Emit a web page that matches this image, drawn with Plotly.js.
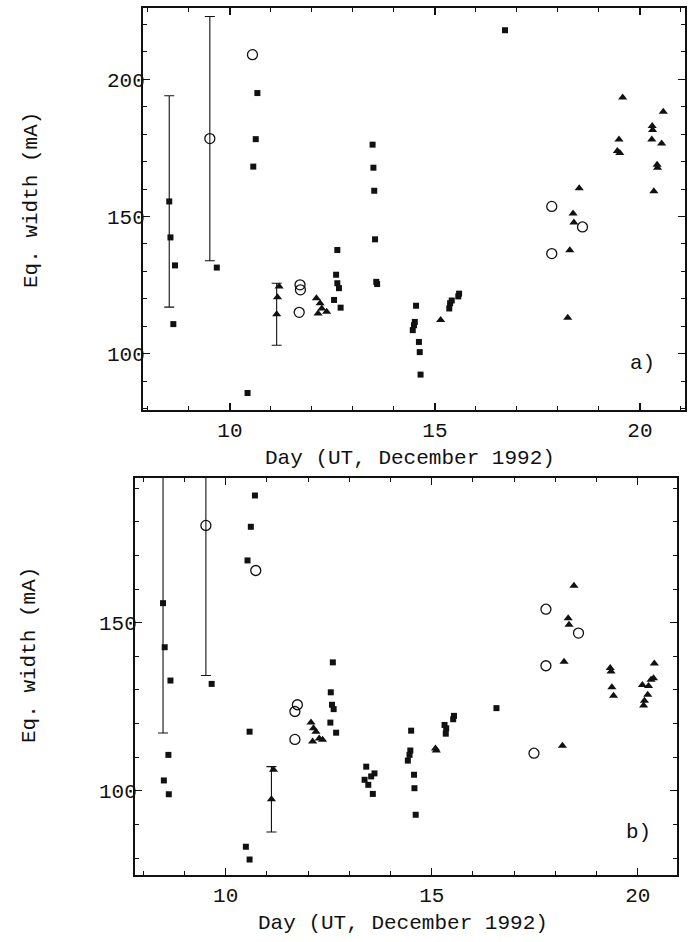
<!DOCTYPE html>
<html>
<head>
<meta charset="utf-8">
<script src="https://cdn.plot.ly/plotly-3.0.1.min.js"></script>
<style>
html,body{margin:0;padding:0;background:#fff;}
#chart{width:699px;height:942px;}
</style>
</head>
<body>
<div id="chart"></div>
<script>
// ---------- Panel a ----------
var aSqX = [8.55, 8.66, 8.62, 9.68, 10.67, 10.63, 10.57, 10.43, 12.62, 12.59, 12.62, 12.66, 12.54, 12.70, 13.48, 13.50, 13.52, 13.54, 13.59, 13.57, 14.54, 14.51, 14.49, 14.46, 14.61, 14.63, 14.65, 15.37, 15.41, 15.35, 15.59, 15.57, 16.71];
var aSqY = [142.4, 132.2, 110.8, 131.4, 195, 178.2, 168.2, 85.7, 137.8, 128.8, 125.7, 123.9, 119.6, 116.8, 176.2, 167.8, 159.4, 141.7, 125.4, 126.2, 117.5, 111.6, 110.4, 108.6, 104.3, 100.6, 92.4, 118.4, 119.4, 116.5, 121.9, 120.9, 217.9];
var aSqErrX = [8.52];
var aSqErrY = [155.5];
var aSqErr = [38.5];

var aCiX = [10.55, 11.71, 11.72, 11.69, 17.85, 17.85, 18.60];
var aCiY = [209, 125.1, 123.3, 115.1, 153.7, 136.5, 146.2];
var aCiErrX = [9.51];
var aCiErrY = [178.4];
var aCiErr = [44.5];

var aTrX = [11.2, 11.16, 12.11, 12.20, 12.15, 12.36, 12.24, 15.14, 18.52, 18.37, 18.39, 18.29, 18.24, 19.58, 19.49, 19.45, 19.51, 20.57, 20.30, 20.31, 20.29, 20.53, 20.42, 20.43, 20.34];
var aTrY = [124.5, 120.6, 120.2, 118.4, 114.7, 115.3, 116.5, 112.3, 160.3, 151.1, 147.8, 137.7, 113.1, 193.4, 178.1, 173.9, 173.2, 188.2, 183, 181.5, 178.1, 176.6, 168.9, 167.8, 159.2];
var aTrErrX = [11.14];
var aTrErrY = [114.4];
var aTrErr = [11.3];

// ---------- Panel b ----------
var bSqX = [8.52, 8.66, 8.61, 8.50, 8.62, 9.66, 10.71, 10.61, 10.53, 10.58, 10.49, 10.58, 12.60, 12.55, 12.58, 12.62, 12.54, 12.68, 13.41, 13.37, 13.61, 13.46, 13.57, 13.53, 14.50, 14.48, 14.46, 14.42, 14.57, 14.58, 14.61, 15.31, 15.35, 15.34, 15.54, 15.52, 16.57];
var bSqY = [142.7, 132.8, 110.7, 103.1, 99.0, 131.8, 187.8, 178.5, 168.5, 117.6, 83.4, 79.6, 138.2, 129.3, 125.6, 124.3, 120.3, 117.3, 107.2, 103.3, 105.2, 101.8, 99.1, 104.3, 117.9, 112.0, 110.7, 109.0, 104.8, 100.8, 92.9, 119.6, 118.6, 117.0, 122.3, 121.3, 124.6];
var bSqErrX = [8.48];
var bSqErrY = [155.8];
var bSqErr = [38.6];

var bCiX = [10.73, 11.74, 11.68, 11.68, 17.48, 17.77, 17.77, 18.56];
var bCiY = [165.5, 125.6, 123.6, 115.3, 111.2, 154, 137.2, 146.9];
var bCiErrX = [9.52];
var bCiErrY = [178.9];
var bCiErr = [44.6];

var bTrX = [11.16, 12.07, 12.13, 12.19, 12.11, 12.27, 12.35, 15.09, 15.11, 18.17, 18.45, 18.31, 18.33, 18.21, 19.33, 19.35, 19.37, 19.41, 20.40, 20.38, 20.32, 20.11, 20.26, 20.24, 20.16, 20.14];
var bTrY = [106.3, 120.3, 118.6, 117.6, 114.7, 115.6, 115.2, 112.6, 112.0, 113.4, 161, 151.3, 149.4, 138.4, 136.5, 135.5, 130.8, 128.3, 137.9, 133.5, 133, 131.5, 131.2, 128.6, 126.8, 125.4];
var bTrErrX = [11.11];
var bTrErrY = [97.5];
var bTrErr = [9.7];

var xTitle = "Day (UT, December 1992)";
var yTitle = "Eq. width (mA)";

var FONT = "Liberation Mono, Courier New, monospace";

var sqMarker = {symbol: "square", size: 6, color: "#111"};
var ciMarker = {symbol: "circle-open", size: 10, color: "#111", line: {width: 1.3, color: "#111"}};
var trMarker = {symbol: "triangle-up", size: 8, color: "#111"};

function pts(x, y, marker, xa, ya) {
  return {x: x, y: y, type: "scatter", mode: "markers", marker: marker, xaxis: xa, yaxis: ya, showlegend: false, hoverinfo: "x+y", cliponaxis: true};
}
function errPts(x, y, e, marker, xa, ya) {
  var t = pts(x, y, marker, xa, ya);
  t.error_y = {type: "data", array: e, visible: true, color: "#111", thickness: 1.1, width: 5};
  return t;
}

var data = [
  errPts(aSqErrX, aSqErrY, aSqErr, sqMarker, "x", "y"),
  errPts(aCiErrX, aCiErrY, aCiErr, ciMarker, "x", "y"),
  errPts(aTrErrX, aTrErrY, aTrErr, trMarker, "x", "y"),
  pts(aSqX, aSqY, sqMarker, "x", "y"),
  pts(aCiX, aCiY, ciMarker, "x", "y"),
  pts(aTrX, aTrY, trMarker, "x", "y"),
  errPts(bSqErrX, bSqErrY, bSqErr, sqMarker, "x2", "y2"),
  errPts(bCiErrX, bCiErrY, bCiErr, ciMarker, "x2", "y2"),
  errPts(bTrErrX, bTrErrY, bTrErr, trMarker, "x2", "y2"),
  pts(bSqX, bSqY, sqMarker, "x2", "y2"),
  pts(bCiX, bCiY, ciMarker, "x2", "y2"),
  pts(bTrX, bTrY, trMarker, "x2", "y2")
];

function xAxis(domain, range, anchor) {
  return {
    domain: domain, range: range, anchor: anchor,
    showgrid: false, zeroline: false,
    showline: true, linecolor: "#111", linewidth: 2, mirror: "ticks",
    ticks: "inside", ticklen: 7, tickwidth: 1.2, tickcolor: "#111",
    tick0: 0, dtick: 5,
    minor: {ticks: "inside", dtick: 1, ticklen: 4, tickwidth: 1, tickcolor: "#111", showgrid: false},
    tickfont: {family: FONT, size: 21, color: "#111"}
  };
}
function yAxis(domain, range, anchor) {
  return {
    domain: domain, range: range, anchor: anchor,
    showgrid: false, zeroline: false,
    showline: true, linecolor: "#111", linewidth: 2, mirror: "ticks",
    ticks: "inside", ticklen: 7, tickwidth: 1.2, tickcolor: "#111",
    tick0: 0, dtick: 50,
    ticklabelstandoff: -8,
    minor: {ticks: "inside", dtick: 10, ticklen: 4, tickwidth: 1, tickcolor: "#111", showgrid: false},
    tickfont: {family: FONT, size: 21, color: "#111"}
  };
}

var W = 699, H = 942;
function px(v) { return v / W; }
function py(v) { return 1 - v / H; }

var layout = {
  width: W, height: H,
  margin: {l: 0, r: 0, t: 0, b: 0},
  paper_bgcolor: "#fff", plot_bgcolor: "#fff",
  showlegend: false,
  xaxis: xAxis([px(143), px(685)], [7.88, 21.1], "y"),
  yaxis: yAxis([py(410), py(8)], [79.5, 226], "x"),
  xaxis2: xAxis([px(135), px(677)], [7.8, 20.95], "y2"),
  yaxis2: yAxis([py(875), py(478)], [75, 193], "x2"),
  annotations: [
    {text: xTitle, xref: "paper", yref: "paper", x: px(410), y: py(458), showarrow: false, xanchor: "center", yanchor: "middle", font: {family: FONT, size: 21, color: "#111"}},
    {text: xTitle, xref: "paper", yref: "paper", x: px(403), y: py(923), showarrow: false, xanchor: "center", yanchor: "middle", font: {family: FONT, size: 21, color: "#111"}},
    {text: yTitle, xref: "paper", yref: "paper", x: px(32), y: py(200), showarrow: false, textangle: -90, xanchor: "center", yanchor: "middle", font: {family: FONT, size: 21, color: "#111"}},
    {text: yTitle, xref: "paper", yref: "paper", x: px(29), y: py(655), showarrow: false, textangle: -90, xanchor: "center", yanchor: "middle", font: {family: FONT, size: 21, color: "#111"}},
    {text: "a)", xref: "x", yref: "y", x: 20.07, y: 96.3, showarrow: false, xanchor: "center", yanchor: "middle", font: {family: FONT, size: 21, color: "#111"}},
    {text: "b)", xref: "x2", yref: "y2", x: 20.02, y: 87.5, showarrow: false, xanchor: "center", yanchor: "middle", font: {family: FONT, size: 21, color: "#111"}}
  ]
};

Plotly.newPlot("chart", data, layout, {displayModeBar: false, staticPlot: true});
</script>
</body>
</html>
